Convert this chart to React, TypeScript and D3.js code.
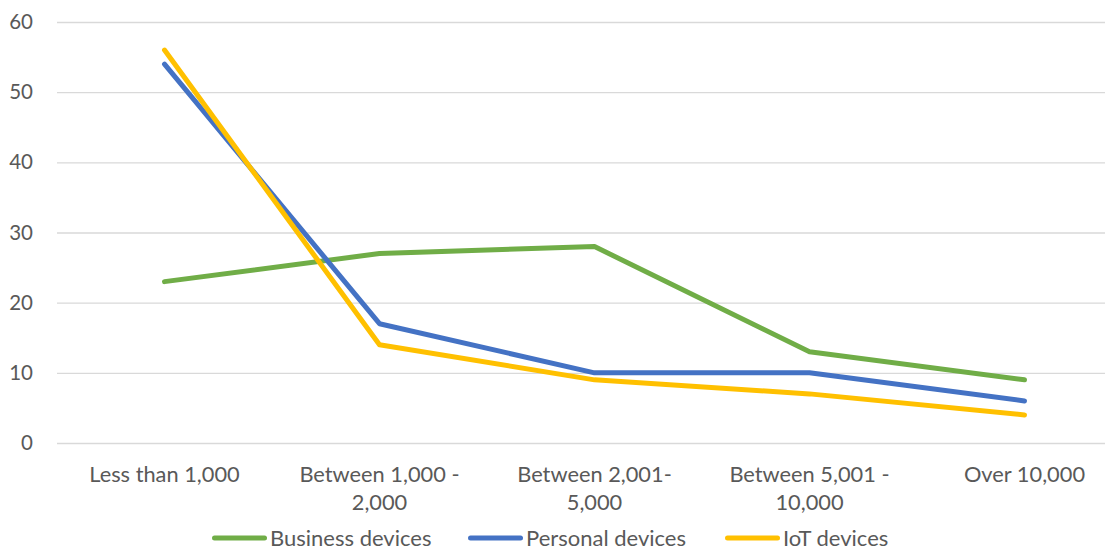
import React from "react";
import * as d3 from "d3";

const categories = [
  ["Less than 1,000"],
  ["Between 1,000 -", "2,000"],
  ["Between 2,001-", "5,000"],
  ["Between 5,001 -", "10,000"],
  ["Over 10,000"],
];
const businessDevices = [23, 27, 28, 13, 9];
const personalDevices = [54, 17, 10, 10, 6];
const iotDevices = [56, 14, 9, 7, 4];
const yTicks = [0, 10, 20, 30, 40, 50, 60];

const series = [
  { name: "Business devices", values: businessDevices, color: "#70AD47" },
  { name: "Personal devices", values: personalDevices, color: "#4472C4" },
  { name: "IoT devices", values: iotDevices, color: "#FFC000" },
];

const W = 1105;
const H = 550;
const FONT = "Lato, sans-serif";

const App = () => {
  const svgRef = React.useRef(null);

  React.useEffect(() => {
    const svg = d3.select(svgRef.current);
    svg.selectAll("*").remove();

    const left = 57, right = 1132, top = 22, bottom = 443;

    const x = d3.scaleBand()
      .domain(categories.map((c, i) => String(i)))
      .range([left, right]);
    const y = d3.scaleLinear().domain([0, 60]).range([bottom, top]);

    // gridlines + y labels
    const yAxis = svg.append("g")
      .attr("transform", `translate(${left},0)`)
      .call(d3.axisLeft(y).tickValues(yTicks).tickSize(-(right - left)).tickPadding(24));
    yAxis.select(".domain").remove();
    yAxis.selectAll("line").attr("stroke", "#d9d9d9").attr("stroke-width", 1.3);
    yAxis.selectAll("text")
      .attr("fill", "#595959")
      .attr("font-size", 20.5)
      .attr("font-family", FONT);

    // x labels
    const xl = svg.append("g");
    categories.forEach((lines, i) => {
      const cx = x(String(i)) + x.bandwidth() / 2;
      const t = xl.append("text")
        .attr("x", cx)
        .attr("y", 482)
        .attr("text-anchor", "middle")
        .attr("fill", "#595959")
        .attr("font-size", 21.8)
        .attr("font-family", FONT);
      lines.forEach((ln, j) => {
        t.append("tspan")
          .attr("x", cx)
          .attr("dy", j === 0 ? 0 : 28)
          .text(ln);
      });
    });

    const line = d3.line()
      .x((d, i) => x(String(i)) + x.bandwidth() / 2)
      .y(d => y(d));

    series.forEach(s => {
      svg.append("path")
        .datum(s.values)
        .attr("d", line)
        .attr("fill", "none")
        .attr("stroke", s.color)
        .attr("stroke-width", 5)
        .attr("stroke-linecap", "round")
        .attr("stroke-linejoin", "round");
    });

    // legend
    const legendX = [212, 468, 725];
    const lg = svg.append("g");
    series.forEach((s, i) => {
      lg.append("line")
        .attr("x1", legendX[i] + 2.5).attr("x2", legendX[i] + 52.5)
        .attr("y1", 538).attr("y2", 538)
        .attr("stroke", s.color)
        .attr("stroke-width", 5)
        .attr("stroke-linecap", "round");
      lg.append("text")
        .attr("x", legendX[i] + 58)
        .attr("y", 546)
        .attr("fill", "#595959")
        .attr("font-size", 22)
        .attr("font-family", FONT)
        .text(s.name);
    });
  }, []);

  return (
    <svg
      ref={svgRef}
      width={W}
      height={H}
      style={{ position: "absolute", left: 0, top: 0, background: "#fff" }}
    />
  );
};

export default App;
